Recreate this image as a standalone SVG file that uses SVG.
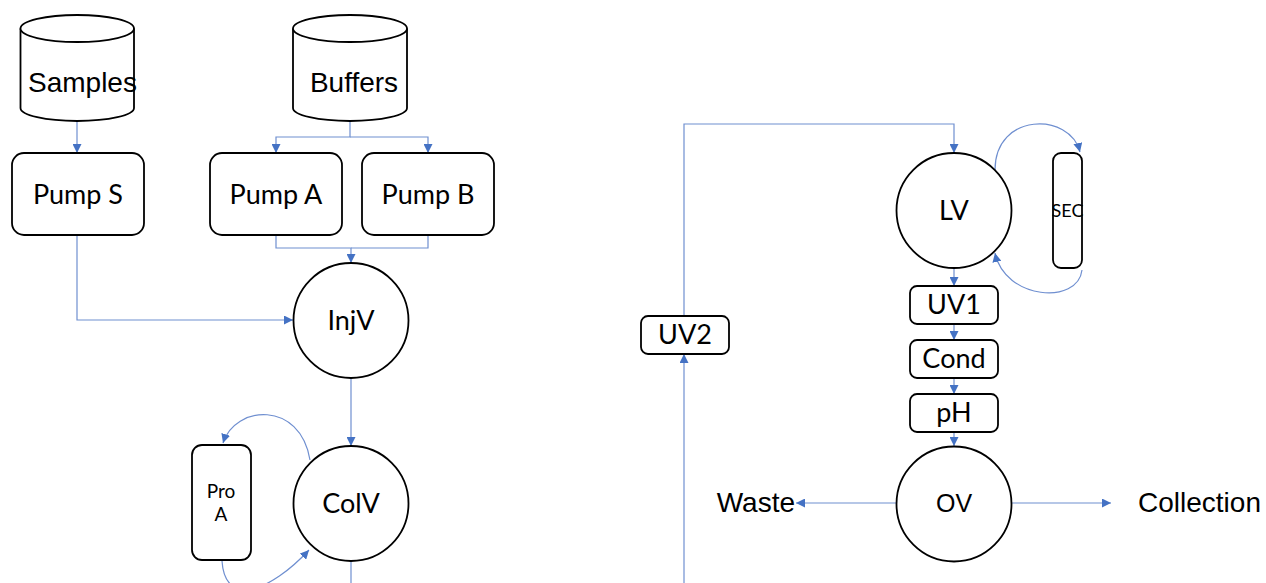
<svg xmlns="http://www.w3.org/2000/svg" width="1266" height="583" viewBox="0 0 1266 583">
  <defs>
    <marker id="arrow" viewBox="0 0 9 9" refX="9" refY="4.5" markerWidth="9" markerHeight="9" markerUnits="userSpaceOnUse" orient="auto">
      <path d="M0,0 L9,4.5 L0,9 z" fill="#4472C4"/>
    </marker>
    <style>
      .node { fill: #ffffff; stroke: #000000; stroke-width: 1.8; }
      .link { fill: none; stroke: #6F8FD0; stroke-width: 1.2; }
      .sans { font-family: "Liberation Sans", Arial, sans-serif; fill: #000000; }
      .lbl { font-family: Lato, "Open Sans", sans-serif; fill: #000000; text-anchor: middle; }
    </style>
  </defs>
  <rect width="1266" height="583" fill="#ffffff"/>

  <!-- connectors -->
  <g id="connectors" class="link">
    <path d="M77,122 V153" marker-end="url(#arrow)"/>
    <path d="M350,122 V137 H276 V153" marker-end="url(#arrow)"/>
    <path d="M350,137 H428 V153" marker-end="url(#arrow)"/>
    <path d="M276,235 V248 H351 V263" marker-end="url(#arrow)"/>
    <path d="M428,235 V248 H351"/>
    <path d="M77,235 V320 H293" marker-end="url(#arrow)"/>
    <path d="M351,378 V446" marker-end="url(#arrow)"/>
    <path d="M351,561 V583"/>
    <path d="M310,460 C300,400 235,405 223,443" marker-end="url(#arrow)"/>
    <path d="M222,561 C225,608 270,592 309,550" marker-end="url(#arrow)"/>

    <path d="M684,583 V354" marker-end="url(#arrow)"/>
    <path d="M684,316 V124 H954 V153" marker-end="url(#arrow)"/>
    <path d="M995,170 C995,112 1070,112 1080,152" marker-end="url(#arrow)"/>
    <path d="M1082,270 C1078,305 1005,300 995,253" marker-end="url(#arrow)"/>
    <path d="M954,268 V286" marker-end="url(#arrow)"/>
    <path d="M954,324 V340" marker-end="url(#arrow)"/>
    <path d="M954,378 V394" marker-end="url(#arrow)"/>
    <path d="M954,432 V446" marker-end="url(#arrow)"/>
    <path d="M896,503 H796" marker-end="url(#arrow)"/>
    <path d="M1012,503 H1111" marker-end="url(#arrow)"/>
  </g>

  <!-- reservoirs -->
  <g id="samples">
    <path class="node" d="M20.5,28.5 V108 A56.75,13 0 0 0 134,108 V28.5"/>
    <ellipse class="node" cx="77.25" cy="28.5" rx="56.75" ry="13.5"/>
    <text class="sans" x="28" y="92" font-size="28">Samples</text>
  </g>
  <g id="buffers">
    <path class="node" d="M293,28.5 V108 A57,13 0 0 0 407,108 V28.5"/>
    <ellipse class="node" cx="350" cy="28.5" rx="57" ry="13.5"/>
    <text class="sans" x="354" y="92" font-size="28" text-anchor="middle">Buffers</text>
  </g>

  <!-- pumps -->
  <g id="pump-s">
    <rect class="node" x="12" y="153" width="132" height="82" rx="12"/>
    <text class="lbl" x="78" y="204" font-size="27">Pump S</text>
  </g>
  <g id="pump-a">
    <rect class="node" x="210" y="153" width="132" height="82" rx="12"/>
    <text class="lbl" x="276" y="204" font-size="27">Pump A</text>
  </g>
  <g id="pump-b">
    <rect class="node" x="362" y="153" width="132" height="82" rx="12"/>
    <text class="lbl" x="428" y="204" font-size="27">Pump B</text>
  </g>

  <!-- valves and column -->
  <g id="injv">
    <circle class="node" cx="351" cy="320.5" r="57.5"/>
    <text class="lbl" x="351" y="330" font-size="27">InjV</text>
  </g>
  <g id="colv">
    <circle class="node" cx="351" cy="503.5" r="57.5"/>
    <text class="lbl" x="351" y="513" font-size="27">ColV</text>
  </g>
  <g id="pro-a">
    <rect class="node" x="192" y="445" width="59" height="115" rx="10"/>
    <text class="lbl" x="221" y="498" font-size="19">Pro</text>
    <text class="lbl" x="221" y="521" font-size="19">A</text>
  </g>

  <!-- detection path -->
  <g id="uv2">
    <rect class="node" x="641" y="316" width="88" height="38" rx="7"/>
    <text class="lbl" x="685" y="344" font-size="27">UV2</text>
  </g>
  <g id="lv">
    <circle class="node" cx="954" cy="210.5" r="57.5"/>
    <text class="lbl" x="954" y="220" font-size="27">LV</text>
  </g>
  <g id="sec">
    <rect class="node" x="1053" y="153" width="29" height="115" rx="8"/>
    <text class="lbl" x="1067.5" y="217" font-size="18">SEC</text>
  </g>
  <g id="uv1">
    <rect class="node" x="910" y="286" width="88" height="38" rx="7"/>
    <text class="lbl" x="954" y="314" font-size="27">UV1</text>
  </g>
  <g id="cond">
    <rect class="node" x="910" y="340" width="88" height="38" rx="7"/>
    <text class="lbl" x="954" y="368" font-size="27">Cond</text>
  </g>
  <g id="ph">
    <rect class="node" x="910" y="394" width="88" height="38" rx="7"/>
    <text class="lbl" x="954" y="422" font-size="27">pH</text>
  </g>
  <g id="ov">
    <circle class="node" cx="954" cy="504" r="57.5"/>
    <text class="sans" x="954" y="512" font-size="25" text-anchor="middle">OV</text>
  </g>

  <!-- outlets -->
  <g id="waste">
    <text class="sans" x="795" y="512" font-size="28" text-anchor="end">Waste</text>
  </g>
  <g id="collection">
    <text class="sans" x="1138" y="512" font-size="28">Collection</text>
  </g>
</svg>
